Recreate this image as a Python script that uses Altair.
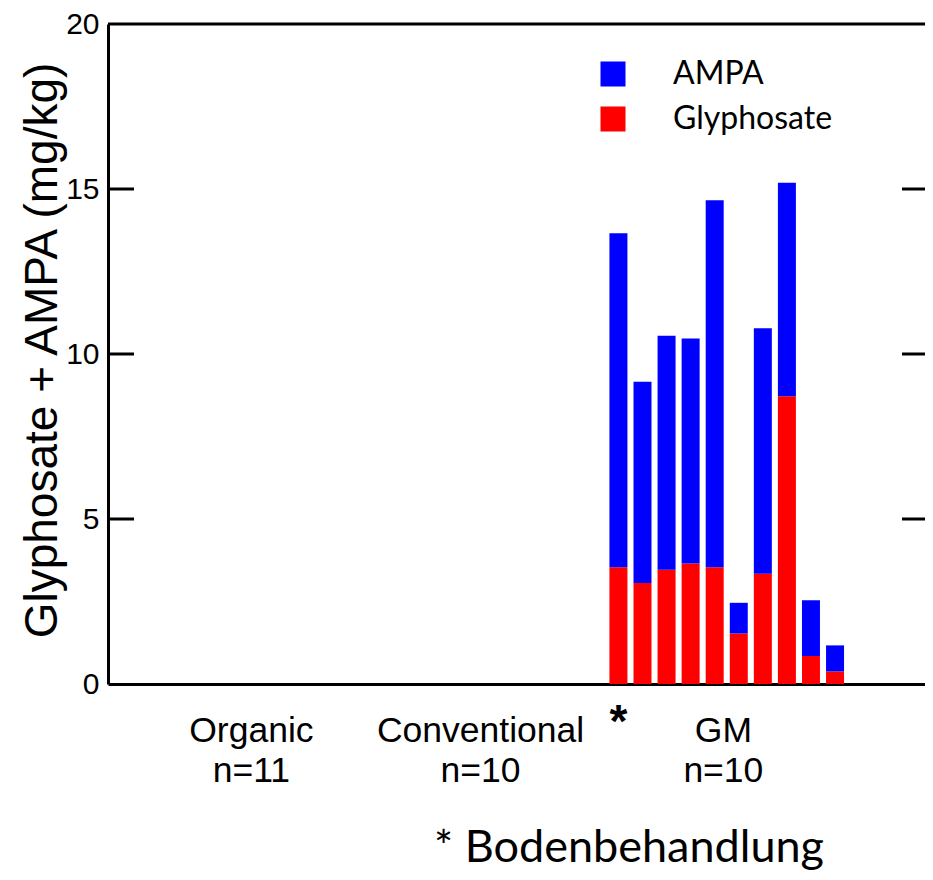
import altair as alt
import pandas as pd

# ---- data ----
components = ["AMPA", "Glyphosate"]
comp_colors = ["#0000ff", "#ff0000"]
gm_sample_pos = [21, 22, 23, 24, 25, 26, 27, 28, 29, 30]
glyphosate = [3.54, 3.06, 3.46, 3.65, 3.54, 1.53, 3.34, 8.72, 0.85, 0.38]
ampa = [10.12, 6.10, 7.09, 6.82, 11.12, 0.93, 7.44, 6.47, 1.69, 0.79]

groups = ["Organic", "Conventional", "GM"]
group_n = ["n=11", "n=10", "n=10"]
group_pos = [5.75, 15.27, 25.36]

y_ticks = [0, 5, 10, 15, 20]
inner_ticks = [5, 10, 15]
x_domain = [0, 33.53]

W, H = 817, 660

rows = []
for p, g, a in zip(gm_sample_pos, glyphosate, ampa):
    rows.append({"pos": p, "component": "Glyphosate", "value": g, "ord": 0})
    rows.append({"pos": p, "component": "AMPA", "value": a, "ord": 1})
bars_df = pd.DataFrame(rows)

xs = alt.Scale(domain=x_domain, nice=False, zero=False)
ys = alt.Scale(domain=[0, 20], nice=False)

bars = alt.Chart(bars_df).mark_bar(size=18).encode(
    x=alt.X("pos:Q", scale=xs,
            axis=alt.Axis(domain=True, domainWidth=3, domainColor="black",
                          ticks=False, labels=False, title=None, grid=False)),
    y=alt.Y("value:Q", stack="zero", scale=ys,
            axis=alt.Axis(values=y_ticks, ticks=False, grid=False,
                          domain=True, domainWidth=3, domainColor="black",
                          labelFont="Liberation Sans", labelFontSize=30,
                          labelColor="black", labelPadding=9,
                          title="Glyphosate + AMPA (mg/kg)",
                          titleFont="Liberation Sans", titleFontSize=46,
                          titleFontWeight="normal", titleColor="black",
                          titleX=-52, titleY=H / 2 - 4, titleAngle=-90,
                          titleBaseline="alphabetic", titleAlign="center")),
    color=alt.Color("component:N",
                    scale=alt.Scale(domain=components, range=comp_colors),
                    legend=alt.Legend(orient="none", legendX=489, legendY=34,
                                      title=None, symbolType="square",
                                      symbolSize=625, symbolStrokeWidth=0,
                                      labelFont="Lato", labelFontSize=32,
                                      labelColor="black", labelOffset=44,
                                      rowPadding=13, padding=0)),
    order=alt.Order("ord:Q"),
)

top_line = alt.Chart(pd.DataFrame({"v": [20]})).mark_rule(
    strokeWidth=3, color="black").encode(
    y=alt.Y("v:Q", scale=ys), x=alt.value(0), x2=alt.value(W))

tick_df = pd.DataFrame({"v": inner_ticks})
left_ticks = alt.Chart(tick_df).mark_rule(strokeWidth=3, color="black").encode(
    y=alt.Y("v:Q", scale=ys), x=alt.value(0), x2=alt.value(26))
right_ticks = alt.Chart(tick_df).mark_rule(strokeWidth=3, color="black").encode(
    y=alt.Y("v:Q", scale=ys), x=alt.value(W - 23), x2=alt.value(W))

lab_df = pd.DataFrame({"pos": group_pos,
                       "label": [f"{g}\n{n}" for g, n in zip(groups, group_n)]})
group_labels = alt.Chart(lab_df).mark_text(
    font="Liberation Sans", fontSize=35.5, color="black", align="center",
    baseline="alphabetic", lineBreak="\n", lineHeight=40).encode(
    x=alt.X("pos:Q", scale=xs), y=alt.value(718), text="label:N")

star = alt.Chart(pd.DataFrame({"pos": [gm_sample_pos[0]], "t": ["*"]})).mark_text(
    font="Liberation Sans", fontSize=46, fontWeight="bold", color="black",
    align="center", baseline="alphabetic").encode(
    x=alt.X("pos:Q", scale=xs), y=alt.value(713), text="t:N")

note = alt.Chart(pd.DataFrame({"t": ["* Bodenbehandlung"]})).mark_text(
    font="Lato", fontSize=45, color="black", align="center",
    baseline="alphabetic").encode(
    x=alt.value(521), y=alt.value(838), text="t:N")

chart = alt.layer(bars, top_line, left_ticks, right_ticks, group_labels, star, note).properties(
    width=W, height=H,
    autosize=alt.AutoSizeParams(type="none"),
    padding={"left": 100, "top": 16, "right": 0, "bottom": 188},
    background="white",
).configure_view(stroke=None)

chart.save("out.html", embed_options={"renderer": "svg", "actions": False})
